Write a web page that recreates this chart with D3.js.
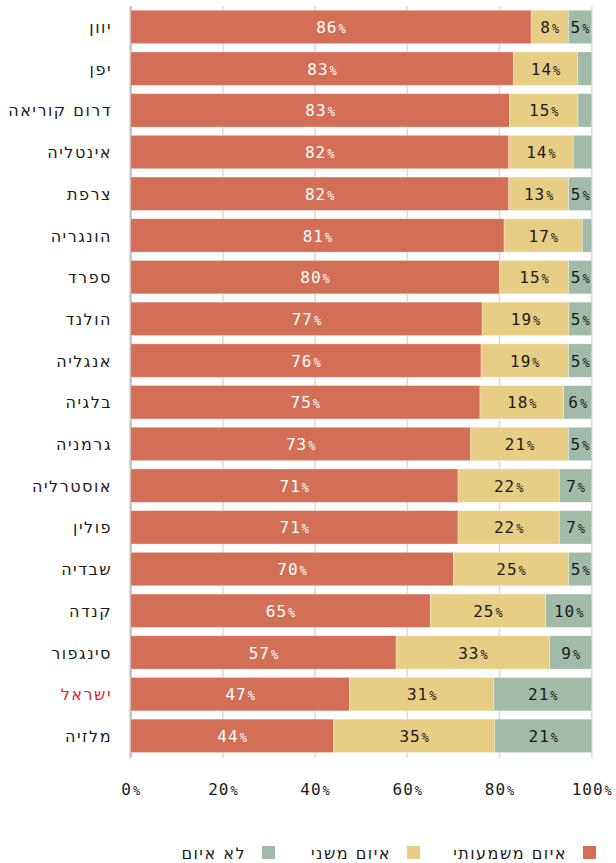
<!DOCTYPE html>
<html lang="he">
<head>
<meta charset="utf-8">
<script src="https://cdn.jsdelivr.net/npm/d3@7"></script>
<style>
  html, body { margin: 0; padding: 0; background: #fff; }
  svg { display: block; }
</style>
</head>
<body>
<svg id="chart" width="616" height="863"></svg>
<script>
// Countries, top to bottom
const countries = ["יוון","יפן","דרום קוריאה","אינטליה","צרפת","הונגריה","ספרד","הולנד","אנגליה","בלגיה","גרמניה","אוסטרליה","פולין","שבדיה","קנדה","סינגפור","ישראל","מלזיה"];
// Share of respondents per category (%)
const significant = [86,83,83,82,82,81,80,77,76,75,73,71,71,70,65,57,47,44];
const minor       = [8,14,15,14,13,17,15,19,19,18,21,22,22,25,25,33,31,35];
const none        = [5,3,3,4,5,2,5,5,5,6,5,7,7,5,10,9,21,21];
const seriesNames = ["איום משמעותי","איום משני","לא איום"];
const xTicks = [0,20,40,60,80,100];
const highlight = "ישראל";

const colors = ["#d36f56","#e8ce84","#a0bba8"];
const keys = ["significant","minor","none"];

const rows = countries.map((c, i) => ({
  country: c, significant: significant[i], minor: minor[i], none: none[i]
}));

const svg = d3.select("#chart");
const W = 616;
const margin = {left: 130.7, right: 24.3};

const x = d3.scaleLinear().domain([0, 1]).range([margin.left, W - margin.right]);
const y = d3.scaleBand().domain(countries).range([6.1, 756.7]).paddingInner(0.2).paddingOuter(0.1);

const stack = d3.stack().keys(keys).offset(d3.stackOffsetExpand);
const layers = stack(rows);

// gridlines
svg.append("g").selectAll("line").data(xTicks).join("line")
  .attr("x1", d => x(d / 100)).attr("x2", d => x(d / 100))
  .attr("y1", 6).attr("y2", 758)
  .attr("stroke", d => d === 0 ? "#c4c4c4" : "#dcdcdc")
  .attr("stroke-width", d => d === 0 ? 2.5 : 1.6);

// stacked bars
const g = svg.append("g");
layers.forEach((layer, li) => {
  g.append("g").selectAll("rect").data(layer).join("rect")
    .attr("x", d => x(d[0]))
    .attr("width", d => x(d[1]) - x(d[0]))
    .attr("y", d => y(d.data.country))
    .attr("height", y.bandwidth())
    .attr("fill", colors[li])
    .attr("stroke", "rgba(255,255,255,0.35)")
    .attr("stroke-width", 0.8);
});

// value labels
const numFont = "'DejaVu Sans Mono', monospace";
const hebFont = "'DejaVu Sans', sans-serif";
function pct(sel, accessor) {
  sel.append("tspan").attr("letter-spacing", 1).text(accessor);
  sel.append("tspan").attr("font-size", 12).attr("dx", 1).text("%");
}
layers.forEach((layer, li) => {
  const key = keys[li];
  const lab = g.append("g").selectAll("text")
    .data(layer.filter(d => d.data[key] >= 5))
    .join("text")
    .attr("x", d => (x(d[0]) + x(d[1])) / 2)
    .attr("y", d => y(d.data.country) + y.bandwidth() / 2)
    .attr("dy", "0.38em")
    .attr("text-anchor", "middle")
    .attr("font-family", numFont)
    .attr("font-size", 16)
    .attr("fill", li === 0 ? "#ffffff" : "#1a1a1a");
  pct(lab, d => d.data[key]);
});

// country labels
svg.append("g").selectAll("text").data(countries).join("text")
  .attr("x", 112)
  .attr("y", d => y(d) + y.bandwidth() / 2)
  .attr("dy", "0.38em")
  .attr("text-anchor", "end")
  .attr("font-family", hebFont)
  .attr("font-size", 16)
  .attr("letter-spacing", 1.5)
  .attr("fill", d => d === highlight ? "#e5222b" : "#1a1a1a")
  .text(d => d);

// x axis tick labels
const xl = svg.append("g").selectAll("text").data(xTicks).join("text")
  .attr("x", d => x(d / 100))
  .attr("y", 789)
  .attr("dy", "0.38em")
  .attr("text-anchor", "middle")
  .attr("font-family", numFont)
  .attr("font-size", 16)
  .attr("fill", "#1a1a1a");
pct(xl, d => d);

// legend (right to left)
const legendItems = [
  {name: seriesNames[0], color: colors[0], sx: 583},
  {name: seriesNames[1], color: colors[1], sx: 407},
  {name: seriesNames[2], color: colors[2], sx: 262}
];
const lg = svg.append("g");
legendItems.forEach(it => {
  lg.append("rect").attr("x", it.sx).attr("y", 846).attr("width", 13).attr("height", 13).attr("fill", it.color);
  lg.append("text")
    .attr("x", it.sx - 16).attr("y", 852.5).attr("dy", "0.38em")
    .attr("text-anchor", "end")
    .attr("font-family", hebFont).attr("font-size", 16)
    .attr("letter-spacing", 1.5)
    .attr("fill", "#1a1a1a")
    .text(it.name);
});
</script>
</body>
</html>
